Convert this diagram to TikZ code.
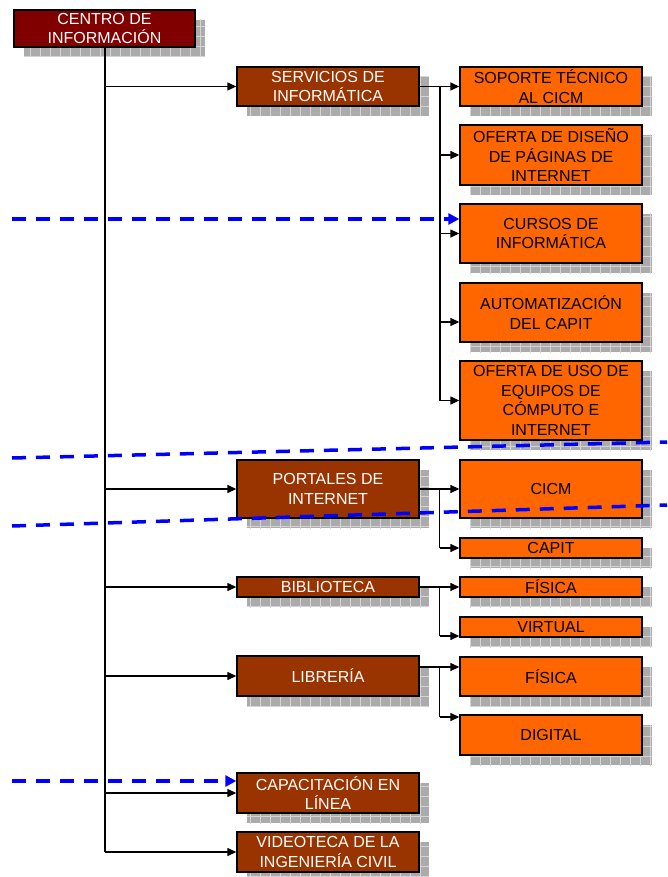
\documentclass[tikz,border=0pt]{standalone}
\usepackage{fontspec}
\setmainfont{Liberation Sans}
\usetikzlibrary{arrows.meta,patterns}

\definecolor{rootred}{HTML}{800000}
\definecolor{unitbrown}{HTML}{993300}
\definecolor{svcorange}{HTML}{FF6600}
\definecolor{shadefill}{HTML}{ABABAB}
\definecolor{shadeline}{HTML}{D4D4D4}
\definecolor{linkblue}{HTML}{0000FF}

% tiled grid used for the box shadows
\pgfdeclarepatternformonly{shadowgrid}{\pgfpoint{-0.1pt}{-0.1pt}}{\pgfpoint{10.1pt}{10.1pt}}{\pgfpoint{10pt}{10pt}}{%
  \pgfsetlinewidth{1pt}%
  \pgfpathmoveto{\pgfpoint{0pt}{0.5pt}}\pgfpathlineto{\pgfpoint{10pt}{0.5pt}}%
  \pgfpathmoveto{\pgfpoint{0.5pt}{0pt}}\pgfpathlineto{\pgfpoint{0.5pt}{10pt}}%
  \pgfusepath{stroke}}

\tikzset{
  box/.style={rectangle, draw=black, line width=1.4pt, inner sep=0pt,
    align=center, font=\fontsize{16}{19.5}\selectfont, minimum width=182pt,
    preaction={fill=shadefill, transform canvas={xshift=10pt,yshift=-10pt}},
    preaction={pattern=shadowgrid, pattern color=shadeline,
               transform canvas={xshift=10pt,yshift=-10pt}}},
  rootbox/.style={box, fill=rootred, text=white, minimum width=181pt},
  unitbox/.style={box, fill=unitbrown, text=white},
  svcbox/.style={box, fill=svcorange, text=black},
  trunk/.style={draw=black, line width=2pt},
  branch/.style={draw=black, line width=1.4pt},
  feed/.style={draw=black, line width=1.4pt, -{Triangle[length=9pt,width=8pt]}},
  bluedash/.style={draw=linkblue, line width=3.5pt, dash pattern=on 14pt off 10pt},
  bluefeed/.style={bluedash, -{Triangle[length=11pt,width=11pt]}},
}

\begin{document}
\begin{tikzpicture}[x=1pt,y=-1pt]
\useasboundingbox (0,0) rectangle (667,877);

% root
\node[rootbox, minimum height=37pt] (root) at (104.5,28.5) {CENTRO DE\\INFORMACIÓN};

% second level
\node[unitbox, minimum height=39pt] (serv) at (328,86.5) {SERVICIOS DE\\INFORMÁTICA};
\node[unitbox, minimum height=58pt] (port) at (328,489) {PORTALES DE\\INTERNET};
\node[unitbox, minimum height=20pt] (bib)  at (328,587) {BIBLIOTECA};
\node[unitbox, minimum height=40pt] (libr) at (328,676) {LIBRERÍA};
\node[unitbox, minimum height=40pt] (cap)  at (328,793) {CAPACITACIÓN EN\\LÍNEA};
\node[unitbox, minimum height=40pt] (vid)  at (328,852) {VIDEOTECA DE LA\\INGENIERÍA CIVIL};

% third level
\node[svcbox, minimum height=39pt] (sop)   at (551,86.5)  {SOPORTE TÉCNICO\\AL CICM};
\node[svcbox, minimum height=60pt] (dis)   at (551,155)   {OFERTA DE DISEÑO\\DE PÁGINAS DE\\INTERNET};
\node[svcbox, minimum height=59pt] (cur)   at (551,233.5) {CURSOS DE\\INFORMÁTICA};
\node[svcbox, minimum height=59pt] (aut)   at (551,312.5) {AUTOMATIZACIÓN\\DEL CAPIT};
\node[svcbox, minimum height=79pt] (equ)   at (551,400.5) {OFERTA DE USO DE\\EQUIPOS DE\\CÓMPUTO E\\INTERNET};
\node[svcbox, minimum height=58pt] (cicm)  at (551,489)   {CICM};
\node[svcbox, minimum height=20pt] (capit) at (551,548)   {CAPIT};
\node[svcbox, minimum height=20pt] (fis)   at (551,587)   {FÍSICA};
\node[svcbox, minimum height=20pt] (virt)  at (551,627)   {VIRTUAL};
\node[svcbox, minimum height=39pt] (fisb)  at (551,676.5) {FÍSICA};
\node[svcbox, minimum height=40pt] (dig)   at (551,735)   {DIGITAL};

% main trunk
\draw[trunk] (root.south) -- (root.south |- vid.west);
\foreach \u in {serv,port,bib,libr,cap,vid}
  \draw[feed] (root.south |- \u.west) -- (\u.west);

% informatics services
\coordinate (sj) at ([xshift=20pt]serv.east);
\draw[feed] (serv.east) -- (sop.west);
\draw[trunk] (sj) -- (sj |- equ.west);
\draw[feed] (sj |- dis.west) -- (dis.west);
\draw[feed] (sj |- cur.west) -- (cur.west);
\coordinate (autin) at ([yshift=-9.5pt]aut.west);
\draw[feed] (sj |- autin) -- (autin);
\draw[feed] (sj |- equ.west) -- (equ.west);

% internet portals
\coordinate (pj) at ([xshift=20pt]port.east);
\draw[feed] (port.east) -- (cicm.west);
\draw[branch] (pj) -- (pj |- capit.west);
\draw[feed] (pj |- capit.west) -- (capit.west);

% library
\coordinate (bj) at ([xshift=20pt]bib.east);
\coordinate (virtin) at ([yshift=-9pt]virt.west);
\draw[feed] (bib.east) -- (fis.west);
\draw[branch] (bj) -- (bj |- virtin);
\draw[feed] (bj |- virtin) -- (virtin);

% bookstore
\coordinate (lout) at ([yshift=9pt]libr.east);
\coordinate (lj) at ([xshift=20pt]lout);
\coordinate (digin) at ([yshift=18pt]dig.west);
\draw[feed] (lout) -- (lout -| fisb.west);
\draw[branch] (lj) -- (lj |- digin);
\draw[feed] (lj |- digin) -- (digin);

% blue dashed marks
\coordinate (da) at (12,219);
\draw[bluefeed] (da) -- ([yshift=14.5pt]cur.west);
\coordinate (db1) at (12,458);
\coordinate (db2) at (667,442);
\draw[bluedash] (db1) -- (db2);
\coordinate (dc1) at (12,526);
\coordinate (dc2) at (667,505);
\draw[bluedash] (dc1) -- (dc2);
\coordinate (dd) at (12,781);
\draw[bluefeed] (dd) -- ([yshift=12pt]cap.west);
\end{tikzpicture}
\end{document}
